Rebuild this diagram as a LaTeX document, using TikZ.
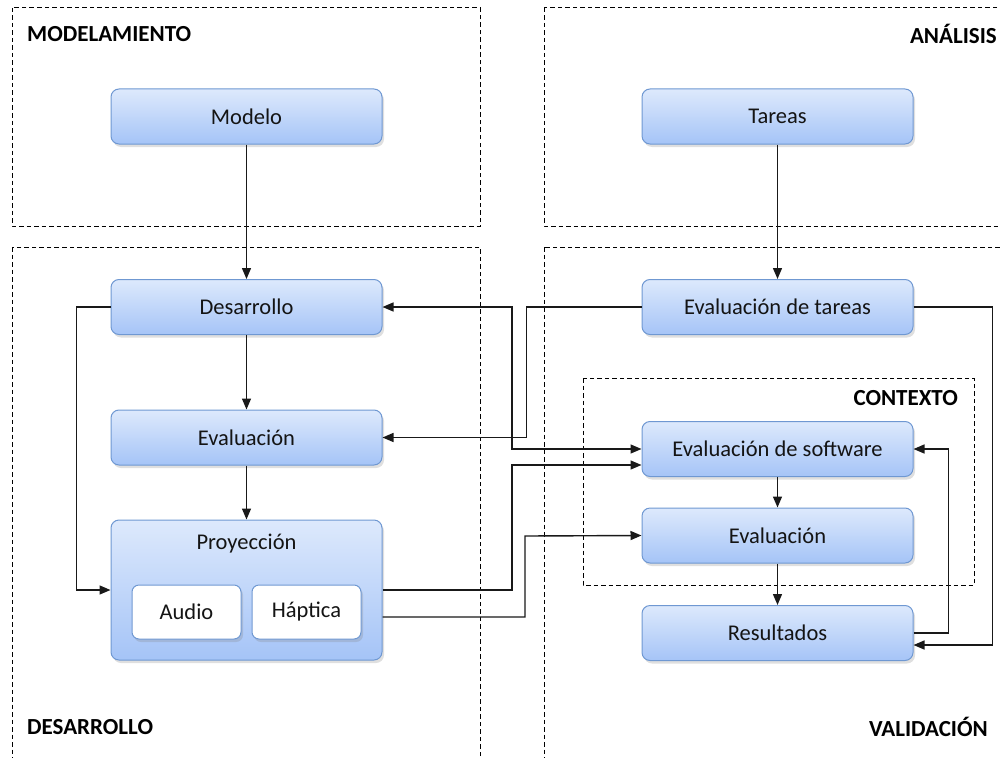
\documentclass[tikz,border=0pt]{standalone}
\usepackage{fontspec}
\setmainfont{Carlito}
\usetikzlibrary{arrows.meta,shadows,calc}
\definecolor{boxtop}{HTML}{DDE9FC}
\definecolor{boxbot}{HTML}{A5C4F7}
\definecolor{boxline}{HTML}{6F98D2}
\definecolor{txt}{HTML}{141414}
\tikzset{
  x=1pt,y=-1pt,
  bluebox/.style={draw=boxline,line width=1pt,rounded corners=8pt,top color=boxtop,bottom color=boxbot,
    minimum width=271pt,minimum height=55pt,inner sep=0pt,
    drop shadow={shadow xshift=2pt,shadow yshift=-3pt,opacity=0.25},
    font=\fontsize{22.5}{26}\selectfont,text=txt},
  whitebox/.style={draw=boxline,line width=1pt,rounded corners=7pt,fill=white,
    minimum width=109pt,minimum height=54pt,inner sep=0pt,
    drop shadow={shadow xshift=2pt,shadow yshift=-3pt,opacity=0.25},
    font=\fontsize{22.5}{26}\selectfont,text=txt},
  frame/.style={draw=black,line width=1pt,dash pattern=on 4.5pt off 3pt},
  title/.style={font=\bfseries\fontsize{23}{27}\selectfont,text=black,inner sep=0pt},
  conn/.style={draw=black!90,line width=1.4pt,-{Triangle[length=11pt,width=9pt]}},
}
\begin{document}
\begin{tikzpicture}
\useasboundingbox (0,0) rectangle (1000,757);
\clip (0,0) rectangle (1000,757);
% frames
\draw[frame] (12,8) rectangle (480,226);
\draw[frame] (544,8) rectangle (1010,226);
\draw[frame] (12,247) rectangle (480,770);
\draw[frame] (544,247) rectangle (1010,770);
\draw[frame] (583,378) rectangle (974,585);
% frame titles
\node[title,anchor=west] (tmod) at (27,34) {MODELAMIENTO};
\node[title,anchor=east] (tana) at (997,34) {ANÁLISIS};
\node[title,anchor=west] (tdes) at (27,727) {DESARROLLO};
\node[title,anchor=east] (tval) at (988,727) {VALIDACIÓN};
\node[title,anchor=east] (tctx) at (958,398) {CONTEXTO};
% left column
\node[bluebox] (modelo) at (246.5,116.5) {Modelo};
\node[bluebox] (des) at (246.5,307) {Desarrollo};
\node[bluebox] (evl) at (246.5,437.5) {Evaluación};
\node[bluebox,minimum height=140pt] (proy) at (246.5,590) {};
\node[font=\fontsize{22.5}{26}\selectfont,text=txt] (proyt) at (246.5,544) {Proyección};
\node[whitebox] (audio) at (186.5,612) {Audio};
\node[whitebox] (hapt) at (306.5,612) {Háptica};
% right column
\node[bluebox] (tareas) at (777.5,116.5) {Tareas};
\node[bluebox] (evt) at (777.5,307) {Evaluación de tareas};
\node[bluebox] (evs) at (777.5,449) {Evaluación de software};
\node[bluebox] (evr) at (777.5,535.5) {Evaluación};
\node[bluebox] (res) at (777.5,633) {Resultados};
% vertical connectors
\draw[conn] (modelo) -- (des);
\draw[conn] (des) -- (evl);
\draw[conn] (evl) -- (proy);
\draw[conn] (tareas) -- (evt);
\draw[conn] (evs) -- (evr);
\draw[conn] (evr) -- (res);
% left loop
\draw[conn] (des.west) -- ++(-34,0) |- (proy.west);
% cross connectors
\draw[conn] (evt.west) -- ++(-115,0) |- (evl.east);
\draw[conn,{Triangle[length=11pt,width=9pt]}-{Triangle[length=11pt,width=9pt]}] (des.east) -| (512,449) -- (evs.west);
\draw[conn] (proy.east) -| (512,465) -- ([yshift=-16pt]evs.west);
\draw[conn] ([yshift=-27pt]proy.east) -| (525,536) -- (evr.west);
% right loops
\draw[conn] (evt.east) -- ++(79,0) |- ([yshift=-12pt]res.east);
\draw[conn] (res.east) -- ++(35,0) |- (evs.east);
\end{tikzpicture}
\end{document}
